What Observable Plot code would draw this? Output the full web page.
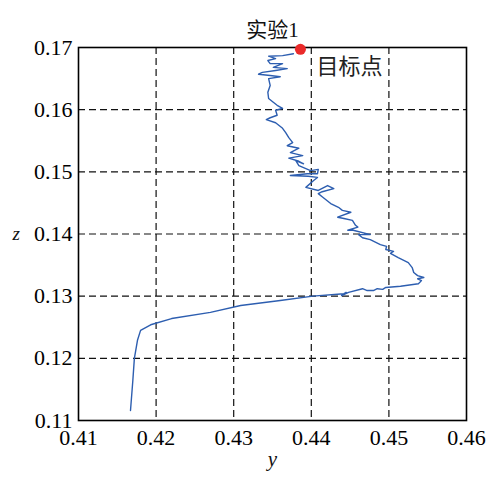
<!DOCTYPE html>
<html>
<head>
<meta charset="utf-8">
<script src="https://cdn.jsdelivr.net/npm/d3@7"></script>
<script src="https://cdn.jsdelivr.net/npm/@observablehq/plot@0.6"></script>
<style>
  html, body { margin: 0; padding: 0; background: #fff; }
  svg text { font-family: "Liberation Serif", "Noto Sans CJK SC", serif; }
  svg text.cjk, svg .cjk text { font-family: "Noto Sans CJK SC", sans-serif; }
</style>
</head>
<body>
<div id="chart"></div>
<script>
// Trajectory (y, z) from start (bottom) to end (top)
const yVals = [
  0.4167, 0.4170, 0.4172, 0.4176, 0.4180, 0.4193, 0.4220, 0.4270, 0.4309, 0.4360,
  0.4402, 0.4442, 0.4445, 0.4439, 0.4448, 0.4466, 0.4472, 0.4480, 0.4485, 0.4492,
  0.4496, 0.4515, 0.4538, 0.4542, 0.4537, 0.4545, 0.4537, 0.4532, 0.4530, 0.4525,
  0.4512, 0.4502, 0.4506, 0.4496, 0.4497, 0.4489, 0.4476, 0.4466, 0.4461, 0.4476,
  0.4454, 0.4447, 0.4460, 0.4457, 0.4453, 0.4442, 0.4434, 0.4451, 0.4440, 0.4435,
  0.4425, 0.4414, 0.4409, 0.4414, 0.4429, 0.4421, 0.4409, 0.4393, 0.4403, 0.4408,
  0.4396, 0.4373, 0.4395, 0.4408, 0.4409, 0.4399, 0.4384, 0.4380, 0.4390, 0.4384,
  0.4371, 0.4389, 0.4373, 0.4384, 0.4369, 0.4376, 0.4371, 0.4367, 0.4363, 0.4354,
  0.4342, 0.4347, 0.4356, 0.4354, 0.4363, 0.4356, 0.4351, 0.4345, 0.4344, 0.4347,
  0.4345, 0.4360, 0.4347, 0.4332, 0.4337, 0.4354, 0.4369, 0.4351, 0.4363, 0.4347,
  0.4344, 0.4354, 0.4345, 0.4363, 0.4377
];
const zVals = [
  0.1116, 0.1164, 0.1200, 0.1229, 0.1245, 0.1254, 0.1264, 0.1274, 0.1285, 0.1293,
  0.1300, 0.1304, 0.1306, 0.1301, 0.1306, 0.1312, 0.1309, 0.1309, 0.1312, 0.1311,
  0.1314, 0.1316, 0.1320, 0.1325, 0.1328, 0.1330, 0.1333, 0.1338, 0.1346, 0.1354,
  0.1362, 0.1369, 0.1372, 0.1375, 0.1380, 0.1383, 0.1391, 0.1394, 0.1399, 0.1399,
  0.1406, 0.1406, 0.1411, 0.1414, 0.1422, 0.1425, 0.1427, 0.1435, 0.1438, 0.1443,
  0.1449, 0.1460, 0.1465, 0.1468, 0.1473, 0.1478, 0.1470, 0.1475, 0.1486, 0.1491,
  0.1493, 0.1494, 0.1497, 0.1497, 0.1504, 0.1502, 0.1510, 0.1518, 0.1513, 0.1517,
  0.1522, 0.1526, 0.1531, 0.1538, 0.1542, 0.1547, 0.1555, 0.1563, 0.1570, 0.1579,
  0.1584, 0.1587, 0.1591, 0.1599, 0.1602, 0.1607, 0.1612, 0.1618, 0.1628, 0.1639,
  0.1650, 0.1653, 0.1655, 0.1657, 0.1660, 0.1663, 0.1666, 0.1668, 0.1674, 0.1674,
  0.1679, 0.1682, 0.1686, 0.1687, 0.1690
];
const target = { y: 0.4386, z: 0.1697, label: "目标点" };
const title = "实验1";
const xTicks = [0.41, 0.42, 0.43, 0.44, 0.45, 0.46];
const yTicks = [0.11, 0.12, 0.13, 0.14, 0.15, 0.16, 0.17];
const xLabel = "y";
const yLabel = "z";

const path = yVals.map((y, i) => ({ y, z: zVals[i] }));

const serif = "Liberation Serif";

const chart = Plot.plot({
  width: 487,
  height: 477,
  marginLeft: 78,
  marginRight: 21,
  marginTop: 47,
  marginBottom: 57,
  style: { background: "#fff", color: "#000" },
  x: { domain: [0.41, 0.46] },
  y: { domain: [0.11, 0.17] },
  marks: [
    Plot.gridX(xTicks.slice(1, -1), { stroke: "#111", strokeOpacity: 1, strokeWidth: 1.2, strokeDasharray: "7,4" }),
    Plot.gridY(yTicks.slice(1, -1), { stroke: "#111", strokeOpacity: 1, strokeWidth: 1.2, strokeDasharray: "7,4" }),
    Plot.frame({ stroke: "#000", strokeWidth: 1.6 }),
    Plot.axisX(xTicks, { tickSize: 0, tickPadding: 9, fontSize: 22, fontFamily: serif, tickFormat: d3.format(".2f"), label: null }),
    Plot.axisY(yTicks, { tickSize: 0, tickPadding: 6, fontSize: 22, fontFamily: serif, tickFormat: d3.format(".2f"), label: null }),
    Plot.line(path, { x: "y", y: "z", stroke: "#2d5eb0", strokeWidth: 1.4, curve: "linear" }),
    Plot.dot([target], { x: "y", y: "z", r: 5.5, fill: "#ea2a2a", stroke: "none" }),
    Plot.text([target], { x: "y", y: "z", text: "label", dx: 16, dy: 18, textAnchor: "start", fontSize: 22, className: "cjk", fill: "#222" }),
    Plot.text([title], { frameAnchor: "top", dy: -25, fontSize: 21, fontFamily: serif, fill: "#111" }),
    Plot.text([xLabel], { frameAnchor: "bottom", dy: 45, fontSize: 21, fontStyle: "italic", fontFamily: serif, fill: "#111" }),
    Plot.text([yLabel], { frameAnchor: "left", dx: -66, fontSize: 19, fontStyle: "italic", fontFamily: serif, fill: "#111" })
  ]
});
document.getElementById("chart").appendChild(chart);
</script>
</body>
</html>
